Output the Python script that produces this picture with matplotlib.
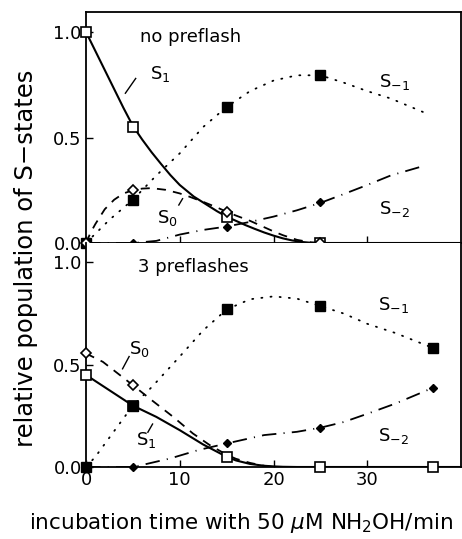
import matplotlib
matplotlib.use("Agg")
import matplotlib.pyplot as plt

# ---------------- data: measured points ----------------
t_top = [0, 5, 15, 25]
top_S1 = [1.0, 0.55, 0.125, 0.0]
top_S0 = [0.0, 0.25, 0.148, 0.0]
top_Sm1 = [0.0, 0.205, 0.645, 0.795]
top_Sm2 = [0.0, 0.0, 0.075, 0.193]

t_bot = [0, 5, 15, 25, 37]
bot_S1 = [0.45, 0.30, 0.05, 0.0, 0.0]
bot_S0 = [0.555, 0.40, 0.06, 0.0, 0.0]
bot_Sm1 = [0.0, 0.30, 0.77, 0.787, 0.582]
bot_Sm2 = [0.0, 0.0, 0.115, 0.192, 0.387]

# ---------------- data: fitted curves ----------------
ct_top_S1 = [0, 1, 2, 3, 4, 5, 6, 7, 8, 9, 10, 11.5, 13, 14, 15, 16, 17, 18, 19, 20, 21, 22, 23, 24, 25, 40]
cv_top_S1 = [1.0, 0.91, 0.82, 0.73, 0.64, 0.555, 0.49, 0.43, 0.375, 0.322, 0.275, 0.22, 0.178, 0.15, 0.125,
             0.105, 0.085, 0.067, 0.05, 0.035, 0.022, 0.012, 0.005, 0.001, 0.0, 0.0]
ct_top_S0 = [0, 0.5, 1, 2, 3, 4, 5, 6, 7, 8.5, 10, 11, 12.5, 14, 15, 16, 17.5, 19, 20, 21, 22.5, 24, 25]
cv_top_S0 = [0.0, 0.05, 0.09, 0.16, 0.205, 0.235, 0.25, 0.258, 0.26, 0.252, 0.235, 0.22, 0.195, 0.168, 0.148,
             0.13, 0.105, 0.075, 0.055, 0.037, 0.015, 0.003, 0.0]
ct_top_Sm1 = [0, 2.5, 5, 7.5, 10, 12.5, 15, 17.5, 20, 22.5, 25, 27.5, 30, 32.5, 36]
cv_top_Sm1 = [0.0, 0.11, 0.205, 0.32, 0.425, 0.55, 0.645, 0.72, 0.77, 0.795, 0.795, 0.76, 0.72, 0.685, 0.62]
ct_top_Sm2 = [0, 5, 7.5, 10, 12.5, 15, 17.5, 20, 22.5, 25, 27.5, 30, 32.5, 36]
cv_top_Sm2 = [0.0, 0.0, 0.01, 0.04, 0.062, 0.078, 0.10, 0.125, 0.155, 0.19, 0.232, 0.275, 0.32, 0.365]

ct_bot_S1 = [0, 2, 5, 7.5, 10, 12.5, 15, 16, 17.5, 19, 20, 21, 22.5, 40]
cv_bot_S1 = [0.45, 0.39, 0.30, 0.245, 0.18, 0.11, 0.05, 0.032, 0.015, 0.006, 0.003, 0.001, 0.0, 0.0]
ct_bot_S0 = [0, 1.8, 5, 7, 9.3, 11.4, 13.2, 15, 16, 17.5, 19, 20]
cv_bot_S0 = [0.555, 0.514, 0.40, 0.327, 0.245, 0.164, 0.107, 0.06, 0.04, 0.02, 0.006, 0.0]
ct_bot_Sm1 = [0, 1, 3.6, 5, 7, 10, 12.5, 15, 17.5, 20, 22.5, 25, 27.5, 30, 33, 37]
cv_bot_Sm1 = [0.0, 0.05, 0.213, 0.30, 0.39, 0.54, 0.668, 0.77, 0.82, 0.834, 0.823, 0.787, 0.75, 0.70, 0.655, 0.582]
ct_bot_Sm2 = [0, 5, 6, 9, 12, 15, 19, 22.5, 25, 27.5, 30, 33, 37]
cv_bot_Sm2 = [0.0, 0.0, 0.01, 0.042, 0.083, 0.115, 0.156, 0.172, 0.192, 0.22, 0.26, 0.31, 0.387]

yticks = [0.0, 0.5, 1.0]
xticks = [0, 10, 20, 30]

plt.rcParams['font.family'] = ['DejaVu Sans']
plt.rcParams['mathtext.fontset'] = 'dejavusans'

fig = plt.figure(figsize=(4.62, 5.39), dpi=100)
L, R = 86 / 462, 461 / 462
ax1 = fig.add_axes([L, 1 - 243 / 539, R - L, (243 - 12) / 539])
ax2 = fig.add_axes([L, 1 - 467 / 539, R - L, (467 - 243) / 539])

FS = 13
lw = 1.3
dot_ls = (0, (0.6, 4.5))
dash_ls = (0, (5, 4))
dashdot_ls = (0, (8, 4, 0.6, 4))
kw = dict(ls='none', clip_on=False, zorder=5)


def curves(ax, S1, S0, Sm1, Sm2):
    ax.plot(*Sm1, color='black', lw=1.3, ls=dot_ls, dash_capstyle='round')
    ax.plot(*Sm2, color='black', lw=lw, ls=dashdot_ls)
    ax.plot(*S0, color='black', lw=lw, ls=dash_ls)
    ax.plot(*S1, color='black', lw=1.5, ls='-')


curves(ax1, (ct_top_S1, cv_top_S1), (ct_top_S0, cv_top_S0),
       (ct_top_Sm1, cv_top_Sm1), (ct_top_Sm2, cv_top_Sm2))
ax1.plot(t_top, top_Sm2, marker='D', ms=4.5, mfc='black', mec='black', **kw)
ax1.plot(t_top, top_Sm1, marker='s', ms=6.5, mfc='black', mec='black', **kw)
ax1.plot(t_top, top_S1, marker='s', ms=7, mfc='white', mec='black', mew=1.2, **kw)
ax1.plot(t_top, top_S0, marker='D', ms=5, mfc='white', mec='black', mew=1.2, **kw)
ax1.plot(t_top[3:], top_Sm2[3:], marker='s', ms=2, mfc='black', mec='black', **kw)

curves(ax2, (ct_bot_S1, cv_bot_S1), (ct_bot_S0, cv_bot_S0),
       (ct_bot_Sm1, cv_bot_Sm1), (ct_bot_Sm2, cv_bot_Sm2))
ax2.plot(t_bot, bot_Sm2, marker='D', ms=4.5, mfc='black', mec='black', **kw)
ax2.plot(t_bot, bot_S1, marker='s', ms=7, mfc='white', mec='black', mew=1.2, **kw)
ax2.plot(t_bot[:2], bot_S0[:2], marker='D', ms=5, mfc='white', mec='black', mew=1.2, **kw)
ax2.plot(t_bot, bot_Sm1, marker='s', ms=6.5, mfc='black', mec='black', **kw)
ax2.plot(t_bot[3:], bot_Sm2[3:], marker='s', ms=2, mfc='black', mec='black', **kw)

for ax in (ax1, ax2):
    ax.set_xlim(0, 40)
    ax.set_ylim(0, 1.095)
    ax.set_yticks(yticks)
    ax.set_yticklabels([f"{v:.1f}" for v in yticks], fontsize=FS)
    ax.set_xticks(xticks)
    ax.tick_params(direction='in', length=5, width=1, pad=3)
    for s in ax.spines.values():
        s.set_linewidth(1.3)

ax1.tick_params(axis='x', labelbottom=False)
ax2.set_xticklabels([str(v) for v in xticks], fontsize=FS)
ax2.spines['top'].set_visible(False)

# annotations: top
ax1.text(5.8, 0.975, 'no preflash', fontsize=FS, va='center', ha='left')
ax1.text(6.8, 0.80, r'S$_1$', fontsize=FS, va='center', ha='left')
ax1.plot([4.2, 5.3], [0.71, 0.78], color='black', lw=1)
ax1.text(31.3, 0.765, r'S$_{-1}$', fontsize=FS, va='center', ha='left')
ax1.text(7.6, 0.12, r'S$_0$', fontsize=FS, va='center', ha='left')
ax1.plot([9.9, 10.3], [0.18, 0.21], color='black', lw=1)
ax1.text(31.3, 0.16, r'S$_{-2}$', fontsize=FS, va='center', ha='left')

# annotations: bottom
ax2.text(5.6, 0.98, '3 preflashes', fontsize=FS, va='center', ha='left')
ax2.text(31.2, 0.79, r'S$_{-1}$', fontsize=FS, va='center', ha='left')
ax2.text(4.6, 0.575, r'S$_0$', fontsize=FS, va='center', ha='left')
ax2.plot([3.9, 4.6], [0.48, 0.54], color='black', lw=1)
ax2.text(5.3, 0.13, r'S$_1$', fontsize=FS, va='center', ha='left')
ax2.plot([6.6, 7.1], [0.17, 0.21], color='black', lw=1)
ax2.text(31.2, 0.15, r'S$_{-2}$', fontsize=FS, va='center', ha='left')

fig.text(26 / 462, 1 - 258 / 539, 'relative population of S\u2212states', rotation=90,
         fontsize=17.5, va='center', ha='center')
fig.text(241 / 462, 1 - 523 / 539, r'incubation time with 50 $\mu$M NH$_2$OH$/$min',
         fontsize=15.5, va='center', ha='center')

fig.savefig('out.png', dpi=100)
